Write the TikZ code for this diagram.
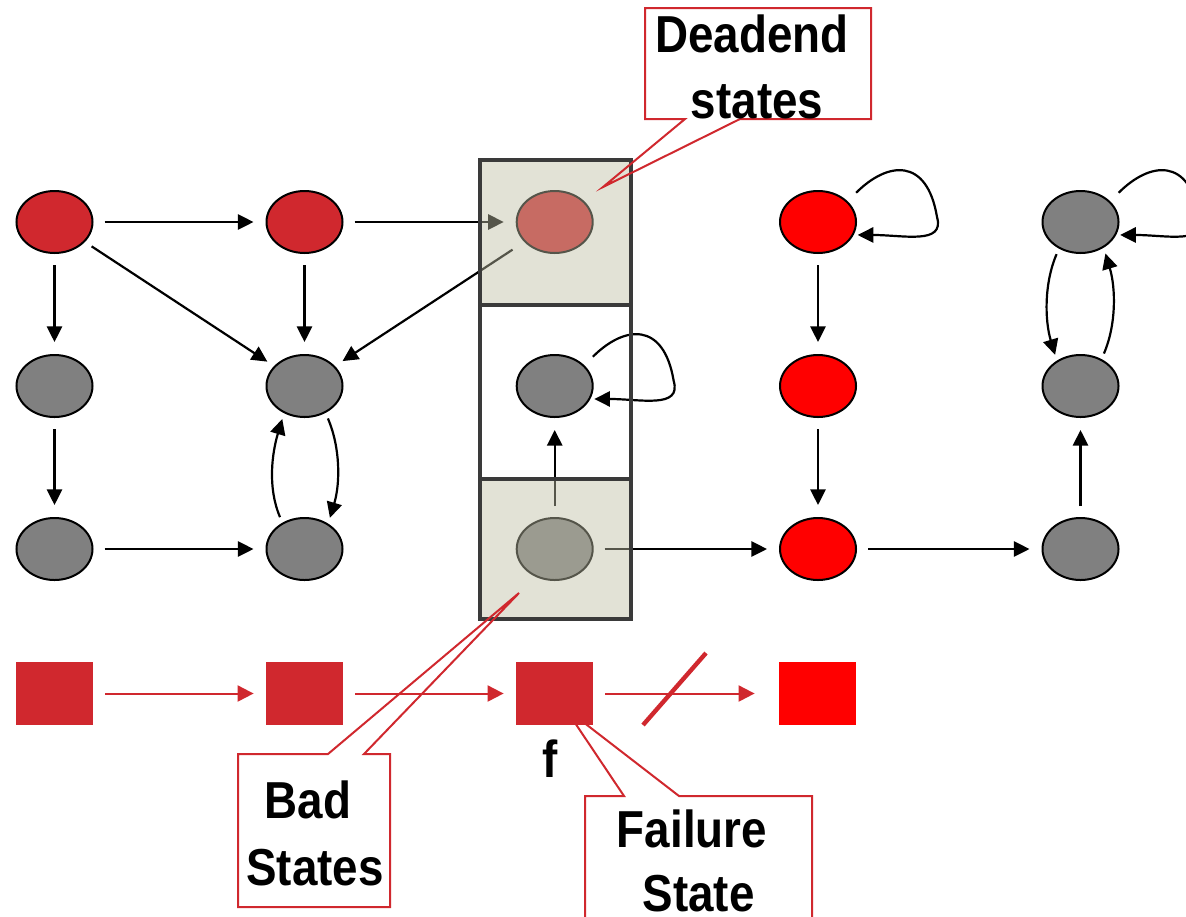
\documentclass[tikz,border=0pt]{standalone}
\usepackage{fontspec}
\newfontfamily\calloutfont{Liberation Sans}[FakeStretch=0.88]
\usetikzlibrary{shapes.geometric,arrows.meta}
\definecolor{statered}{RGB}{208,40,46}
\definecolor{brightred}{RGB}{255,0,0}
\definecolor{stategray}{RGB}{128,128,128}
\definecolor{cellshade}{RGB}{190,190,165}
\definecolor{frameline}{RGB}{58,58,58}
\tikzset{
  state/.style={ellipse, draw=black, line width=1pt, minimum width=38pt, minimum height=31pt, inner sep=0pt},
  edge/.style={-{Triangle[length=7.8pt,width=7.6pt]}, line width=1.1pt, shorten <=5.5pt, shorten >=6pt},
  token/.style={rectangle, minimum width=38.5pt, minimum height=31.5pt, inner sep=0pt, fill=statered},
  redge/.style={-{Triangle[length=8pt,width=8pt]}, draw=statered, line width=1pt, shorten <=6pt, shorten >=6pt},
  callout/.style={draw=statered, line width=1pt, line join=miter},
  note/.style={font=\calloutfont\bfseries\fontsize{26}{30}\selectfont, anchor=base, inner sep=0pt},
}
% self loop leaving the upper right of a state and re-entering from the right
\newcommand\selfloop[1]{%
  \draw[edge, shorten <=6pt, shorten >=2pt] (#1.35)
    .. controls +(40,-40) and +(-10,-60) .. ([shift={(119,-5)}]#1.center)
    .. controls +(8,28) and +(50,0) .. (#1.-20);}
\begin{document}
\begin{tikzpicture}[x=0.5pt, y=-0.5pt]
\useasboundingbox (0,0) rectangle (1186,916);
\clip (0,0) rectangle (1186,916);

% states
\node[state, fill=statered]   (a1) at (54.5,222) {};
\node[state, fill=statered]   (a2) at (304.5,222) {};
\node[state, fill=statered]   (a3) at (554.7,222) {};
\node[state, fill=brightred]  (a4) at (818,222) {};
\node[state, fill=stategray]  (a5) at (1080.5,222) {};
\node[state, fill=stategray]  (b1) at (54.5,386) {};
\node[state, fill=stategray]  (b2) at (304.5,386) {};
\node[state, fill=stategray]  (b3) at (554.7,386) {};
\node[state, fill=brightred]  (b4) at (818,386) {};
\node[state, fill=stategray]  (b5) at (1080.5,386) {};
\node[state, fill=stategray]  (c1) at (54.5,549) {};
\node[state, fill=stategray]  (c2) at (304.5,549) {};
\node[state, fill=stategray]  (c3) at (554.7,549) {};
\node[state, fill=brightred]  (c4) at (818,549) {};
\node[state, fill=stategray]  (c5) at (1080.5,549) {};

% transitions
\draw[edge] (a1) -- (a2);
\draw[edge] (a2) -- (a3);
\draw[edge] (a1) -- (b1);
\draw[edge] (b1) -- (c1);
\draw[edge] (c1) -- (c2);
\draw[edge] (a2) -- (b2);
\draw[edge, shorten <=4pt, shorten >=4pt] (a1) -- (b2);
\draw[edge, shorten <=7pt, shorten >=4.5pt] (a3) -- (b2);
\draw[edge, shorten <=3pt, shorten >=3pt] (b2.-52) .. controls +(15,35) and +(12,-40) .. (c2.47);
\draw[edge, shorten <=3pt, shorten >=3pt] (c2.130) .. controls +(-15,-35) and +(-12,40) .. (b2.233);
\draw[edge] (c3) -- (b3);
\draw[edge] (c3) -- (c4);
\draw[edge] (c4) -- (c5);
\draw[edge] (a4) -- (b4);
\draw[edge] (b4) -- (c4);
\draw[edge] (c5) -- (b5);
\draw[edge, shorten <=3pt, shorten >=3pt] (a5.231) .. controls +(-15,35) and +(-12,-40) .. (b5.133);
\draw[edge, shorten <=3pt, shorten >=3pt] (b5.52) .. controls +(15,-35) and +(12,40) .. (a5.-48);
\selfloop{a4}
\selfloop{a5}
\selfloop{b3}

% shaded cells of the middle column and its frame
\fill[cellshade, fill opacity=0.45] (480,160) rectangle (631,305);
\fill[cellshade, fill opacity=0.45] (480,479) rectangle (631,619);
\draw[frameline, line width=2.2pt] (480,160) rectangle (631,619);
\draw[frameline, line width=2.2pt] (480,305) -- (631,305);
\draw[frameline, line width=2.2pt] (480,479) -- (631,479);

% failure callout (its pointer runs under the token)
\fill[white] (585,796) rectangle (812,940);
\draw[callout] (624,796) -- (565,708) -- (679,796) -- (812,796) -- (812,940) -- (585,940) -- (585,796) -- cycle;

% token run
\node[token] (s1) at (54.5,693.5) {};
\node[token] (s2) at (304.5,693.5) {};
\node[token] (s3) at (554.5,693.5) {};
\node[token, fill=brightred] (s4) at (817.5,693.5) {};
\draw[redge] (s1) -- (s2);
\draw[redge] (s2) -- (s3);
\draw[redge, shorten >=12pt] (s3) -- (s4);
\draw[statered, line width=2.2pt] (643,725) -- (706,653);

% remaining callouts
\fill[white] (238,754) rectangle (390,907);
\draw[callout] (238,754) -- (328,754) -- (519,593) -- (364,754) -- (390,754) -- (390,907) -- (238,907) -- cycle;
\fill[white] (645,8) rectangle (871,119);
\draw[callout] (645,8) -- (871,8) -- (871,119) -- (740,119) -- (603,187) -- (685,119) -- (645,119) -- cycle;

% labels
\node[note] (dl1) at (752,52) {Deadend};
\node[note] (dl2) at (757,118) {states};
\node[note] (bl1) at (308,818) {Bad};
\node[note] (bl2) at (315,885) {States};
\node[note] (fl1) at (692,847) {Failure};
\node[note] (fl2) at (698.5,911) {State};
\node[note] (flab) at (550,777) {f};
\end{tikzpicture}
\end{document}
